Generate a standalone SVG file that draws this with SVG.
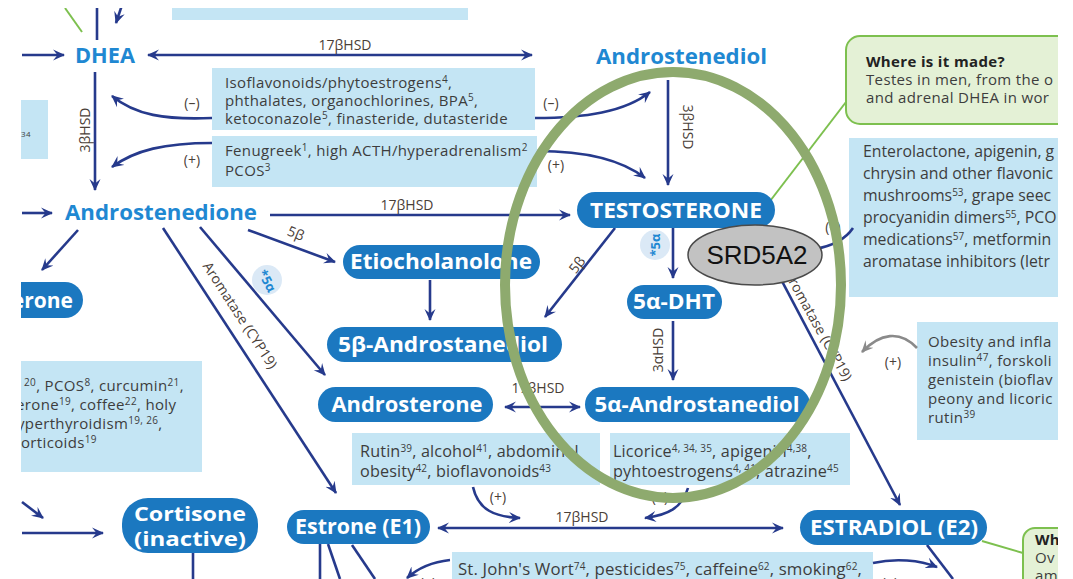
<svg xmlns="http://www.w3.org/2000/svg" width="1073" height="579" viewBox="0 0 1073 579">
<defs>
<clipPath id="crop"><rect x="21" y="8" width="1037" height="571"/></clipPath>
<marker id="ah" viewBox="0 0 12 12" refX="11" refY="6" markerWidth="12" markerHeight="12" orient="auto-start-reverse" markerUnits="userSpaceOnUse"><path d="M0,0.5 L12,6 L0,11.5 L4.5,6 Z" fill="#263a8c"/></marker>
<marker id="ahg" viewBox="0 0 12 12" refX="11" refY="6" markerWidth="12" markerHeight="12" orient="auto" markerUnits="userSpaceOnUse"><path d="M0,0.5 L12,6 L0,11.5 L4.5,6 Z" fill="#8a8a8a"/></marker>
<style>
.ln{fill:none;stroke:#263a8c;stroke-width:2.6}
.arr{marker-end:url(#ah)}
.dbl{marker-start:url(#ah);marker-end:url(#ah)}
.gl{fill:none;stroke:#7dc04f;stroke-width:2}
.box{fill:#c4e5f4}
.gbox{fill:#e4f1d6;stroke:#7dc04f;stroke-width:2}
.pill{fill:#1b78c0}
.pt{font-family:"Open Sans","Noto Sans",sans-serif;font-weight:700;font-size:21px;fill:#fff;text-anchor:middle}
.ft{font-family:"Open Sans","Noto Sans",sans-serif;font-weight:700;font-size:21px;fill:#1f88d2}
.bt{font-family:"Open Sans","Noto Sans",sans-serif;font-size:15px;letter-spacing:0.35px;fill:#3d3d3d}
.bt3{font-family:"Open Sans","Noto Sans",sans-serif;font-size:15.8px;fill:#3d3d3d}
.bt2{font-family:"Open Sans","Noto Sans",sans-serif;font-size:16.2px;letter-spacing:0.15px;fill:#3d3d3d}
.lb{font-family:"Open Sans","Noto Sans",sans-serif;font-size:14px;fill:#4a4038;text-anchor:middle}
.sup{font-size:10px}
.c5{fill:#dbe9f6}
.c5t{font-family:"Open Sans","Noto Sans",sans-serif;font-weight:700;font-size:13px;fill:#1f88d2;text-anchor:middle}
</style>
</defs>
<g clip-path="url(#crop)">
<g id="boxes">
<rect class="box" x="172" y="8" width="296" height="12"/>
<rect class="box" x="21" y="100" width="27" height="59"/>
<text class="bt" x="21" y="137" style="font-size:8px">34</text>
<rect class="box" x="212" y="68" width="323" height="62"/>
<text class="bt" x="225" y="88">Isoflavonoids/phytoestrogens<tspan class="sup" dy="-5">4</tspan><tspan dy="5">,</tspan></text>
<text class="bt" x="225" y="106">phthalates, organochlorines, BPA<tspan class="sup" dy="-5">5</tspan><tspan dy="5">,</tspan></text>
<text class="bt" x="225" y="124">ketoconazole<tspan class="sup" dy="-5">5</tspan><tspan dy="5">, finasteride, dutasteride</tspan></text>
<rect class="box" x="212" y="136" width="325" height="51"/>
<text class="bt" x="225" y="156">Fenugreek<tspan class="sup" dy="-5">1</tspan><tspan dy="5">, high ACTH/hyperadrenalism</tspan><tspan class="sup" dy="-5">2</tspan></text>
<text class="bt" x="225" y="176">PCOS<tspan class="sup" dy="-5">3</tspan></text>
<rect class="box" x="849" y="138" width="209" height="159"/>
<text class="bt3" x="863" y="157">Enterolactone, apigenin, g</text>
<text class="bt3" x="863" y="179">chrysin and other flavonic</text>
<text class="bt3" x="863" y="201">mushrooms<tspan class="sup" dy="-5">53</tspan><tspan dy="5">, grape seec</tspan></text>
<text class="bt3" x="863" y="223">procyanidin dimers<tspan class="sup" dy="-5">55</tspan><tspan dy="5">, PCO</tspan></text>
<text class="bt3" x="863" y="245">medications<tspan class="sup" dy="-5">57</tspan><tspan dy="5">, metformin</tspan></text>
<text class="bt3" x="863" y="267">aromatase inhibitors (letr</text>
<rect class="box" x="917" y="322" width="141" height="118"/>
<text class="bt" x="928" y="347">Obesity and infla</text>
<text class="bt" x="928" y="366">insulin<tspan class="sup" dy="-5">47</tspan><tspan dy="5">, forskoli</tspan></text>
<text class="bt" x="928" y="385">genistein (bioflav</text>
<text class="bt" x="928" y="404">peony and licoric</text>
<text class="bt" x="928" y="423">rutin<tspan class="sup" dy="-5">39</tspan></text>
<rect class="box" x="21" y="361" width="181" height="111"/>
<text class="bt" x="24" y="391"><tspan class="sup" dy="-5">20</tspan><tspan dy="5">, PCOS</tspan><tspan class="sup" dy="-5">8</tspan><tspan dy="5">, curcumin</tspan><tspan class="sup" dy="-5">21</tspan><tspan dy="5">,</tspan></text>
<text class="bt" x="16" y="410">erone<tspan class="sup" dy="-5">19</tspan><tspan dy="5">, coffee</tspan><tspan class="sup" dy="-5">22</tspan><tspan dy="5">, holy</tspan></text>
<text class="bt" x="17" y="429">yperthyroidism<tspan class="sup" dy="-5">19, 26</tspan><tspan dy="5">,</tspan></text>
<text class="bt" x="21" y="448">orticoids<tspan class="sup" dy="-5">19</tspan></text>
<rect class="box" x="352" y="433" width="248" height="52"/>
<text class="bt2" x="360" y="457">Rutin<tspan class="sup" dy="-5">39</tspan><tspan dy="5">, alcohol</tspan><tspan class="sup" dy="-5">41</tspan><tspan dy="5">, abdominal</tspan></text>
<text class="bt2" x="360" y="477">obesity<tspan class="sup" dy="-5">42</tspan><tspan dy="5">, bioflavonoids</tspan><tspan class="sup" dy="-5">43</tspan></text>
<rect class="box" x="610" y="433" width="240" height="52"/>
<text class="bt2" x="613" y="457">Licorice<tspan class="sup" dy="-5">4, 34, 35</tspan><tspan dy="5">, apigenin</tspan><tspan class="sup" dy="-5">4,38</tspan><tspan dy="5">,</tspan></text>
<text class="bt2" x="613" y="477">pyhtoestrogens<tspan class="sup" dy="-5">4, 41</tspan><tspan dy="5">, atrazine</tspan><tspan class="sup" dy="-5">45</tspan></text>
<rect class="box" x="452" y="552" width="421" height="30"/>
<text class="bt2" x="458" y="575" style="font-size:16.8px">St. John's Wort<tspan class="sup" dy="-5">74</tspan><tspan dy="5">, pesticides</tspan><tspan class="sup" dy="-5">75</tspan><tspan dy="5">, caffeine</tspan><tspan class="sup" dy="-5">62</tspan><tspan dy="5">, smoking</tspan><tspan class="sup" dy="-5">62</tspan><tspan dy="5">,</tspan></text>
</g>
<g id="green-boxes">
<rect class="gbox" x="846" y="36" width="240" height="88" rx="14"/>
<text class="bt" x="866" y="67" style="font-weight:700;fill:#222">Where is it made?</text>
<text class="bt" x="866" y="85">Testes in men, from the o</text>
<text class="bt" x="866" y="103">and adrenal DHEA in wor</text>
<rect class="gbox" x="1023" y="528" width="80" height="70" rx="12"/>
<text class="bt" x="1035" y="545" style="font-weight:700;fill:#222">Wh</text>
<text class="bt" x="1035" y="563">Ov</text>
<text class="bt" x="1035" y="581">am</text>
</g>
<g id="connectors">
<line class="gl" x1="65" y1="8" x2="82" y2="32"/>
<line class="gl" x1="767" y1="205" x2="846" y2="102"/>
<line class="gl" x1="982" y1="541" x2="1023" y2="553"/>
<line class="ln" x1="97" y1="8" x2="97" y2="40"/>
<line class="ln arr" x1="123" y1="2" x2="116" y2="23"/>
<line class="ln arr" x1="22" y1="55" x2="64" y2="55"/>
<line class="ln dbl" x1="148" y1="55" x2="532" y2="55"/>
<line class="ln arr" x1="95" y1="72" x2="95" y2="190"/>
<path class="ln arr" d="M212,118 C165,120 135,115 112,96"/>
<path class="ln arr" d="M212,143 C165,143 135,150 112,167"/>
<path class="ln arr" d="M535,118 C585,118 625,112 650,92"/>
<path class="ln arr" d="M537,151 C585,151 622,160 645,178"/>
<line class="ln arr" x1="668" y1="80" x2="668" y2="185"/>
<line class="ln arr" x1="22" y1="213" x2="52" y2="213"/>
<line class="ln arr" x1="270" y1="215" x2="570" y2="215"/>
<line class="ln arr" x1="78" y1="230" x2="42" y2="270"/>
<line class="ln arr" x1="248" y1="230" x2="335" y2="262"/>
<line class="ln arr" x1="163" y1="228" x2="336" y2="493"/>
<line class="ln arr" x1="200" y1="227" x2="325" y2="375"/>
<line class="ln arr" x1="430" y1="280" x2="430" y2="320"/>
<line class="ln arr" x1="615" y1="228" x2="545" y2="317"/>
<line class="ln arr" x1="673" y1="228" x2="673" y2="278"/>
<line class="ln arr" x1="673" y1="321" x2="673" y2="380"/>
<line class="ln dbl" x1="505" y1="407" x2="580" y2="407"/>
<line class="ln arr" x1="755" y1="230" x2="900" y2="505"/>
<path class="ln" d="M853,228 C845,240 832,246 815,249"/>
<path class="ln arr" d="M473,487 C478,510 495,517 520,518"/>
<path class="ln arr" d="M688,488 C682,508 668,515 645,518"/>
<line class="ln dbl" x1="438" y1="528" x2="783" y2="528"/>
<line class="ln arr" x1="22" y1="533" x2="103" y2="533"/>
<line class="ln arr" x1="22" y1="502" x2="43" y2="518"/>
<line class="ln" x1="193" y1="553" x2="193" y2="579"/>
<line class="ln" x1="320" y1="544" x2="320" y2="579"/>
<line class="ln" x1="328" y1="544" x2="340" y2="579"/>
<line class="ln" x1="352" y1="545" x2="375" y2="579"/>
<path class="ln arr" d="M450,560 C432,562 418,568 407,578"/>
<path class="ln arr" d="M873,563 C895,558 920,560 937,567"/>
<line class="ln" x1="927" y1="545" x2="953" y2="579"/>
<path d="M917,348 C900,330 880,333 862,352" fill="none" stroke="#8a8a8a" stroke-width="2.6" marker-end="url(#ahg)"/>
</g>
<g id="labels">
<text class="lb" x="345" y="50">17βHSD</text>
<text class="lb" x="192" y="108">(–)</text>
<text class="lb" x="192" y="165">(+)</text>
<text class="lb" x="551" y="108">(–)</text>
<text class="lb" x="556" y="170">(+)</text>
<text class="lb" transform="translate(90,130) rotate(-90)">3βHSD</text>
<text class="lb" transform="translate(683,127) rotate(90)">3βHSD</text>
<text class="lb" x="407" y="210">17βHSD</text>
<text class="lb" transform="translate(294,238) rotate(22)">5β</text>
<text class="lb" transform="translate(236,318) rotate(57)">Aromatase (CYP19)</text>
<text class="lb" transform="translate(581,268) rotate(-52)">5β</text>
<text class="lb" transform="translate(663,350) rotate(-90)">3αHSD</text>
<text class="lb" x="538" y="393">17βHSD</text>
<text class="lb" transform="translate(814,328) rotate(61)">Aromatase (CYP19)</text>
<text class="lb" x="833" y="232">(–)</text>
<text class="lb" x="893" y="367">(+)</text>
<text class="lb" x="498" y="502">(+)</text>
<text class="lb" x="660" y="502">(+)</text>
<text class="lb" x="582" y="522">17βHSD</text>
<text class="lb" x="428" y="588">(+)</text>
<text class="lb" x="890" y="588">(+)</text>
<circle class="c5" cx="267" cy="280" r="15"/>
<text class="c5t" transform="translate(263,283) rotate(62)">*5α</text>
<circle class="c5" cx="655" cy="245" r="15"/>
<text class="c5t" transform="translate(660,245) rotate(-90)">*5α</text>
</g>
<g id="node-dhea"><text class="ft" x="75" y="63" textLength="60" lengthAdjust="spacingAndGlyphs">DHEA</text></g>
<g id="node-androstenediol"><text class="ft" x="596" y="64" textLength="171" lengthAdjust="spacingAndGlyphs">Androstenediol</text></g>
<g id="node-androstenedione"><text class="ft" x="65" y="220" textLength="192" lengthAdjust="spacingAndGlyphs">Androstenedione</text></g>
<g id="node-erone"><rect class="pill" x="-100" y="282" width="183" height="36" rx="18"/><text class="pt" x="73" y="308" style="text-anchor:end">erone</text></g>
<g id="node-etiocholanolone"><rect class="pill" x="343" y="245" width="197" height="34" rx="17"/><text class="pt" x="441" y="269" textLength="182" lengthAdjust="spacingAndGlyphs">Etiocholanolone</text></g>
<g id="node-testosterone"><rect class="pill" x="577" y="192" width="198" height="36" rx="18"/><text class="pt" x="676" y="218" textLength="172" lengthAdjust="spacingAndGlyphs">TESTOSTERONE</text></g>
<g id="node-5b-androstanediol"><rect class="pill" x="327" y="327" width="235" height="35" rx="17.5"/><text class="pt" x="443" y="352" textLength="210" lengthAdjust="spacingAndGlyphs">5β-Androstanediol</text></g>
<g id="node-5a-dht"><rect class="pill" x="627" y="285" width="95" height="34" rx="17"/><text class="pt" x="674" y="309" textLength="82" lengthAdjust="spacingAndGlyphs">5α-DHT</text></g>
<g id="node-androsterone"><rect class="pill" x="318" y="387" width="175" height="35" rx="17.5"/><text class="pt" x="407" y="412" textLength="151" lengthAdjust="spacingAndGlyphs">Androsterone</text></g>
<g id="node-5a-androstanediol"><rect class="pill" x="585" y="387" width="225" height="35" rx="17.5"/><text class="pt" x="697" y="412" textLength="205" lengthAdjust="spacingAndGlyphs">5α-Androstanediol</text></g>
<g id="node-cortisone"><rect class="pill" x="122" y="498" width="136" height="55" rx="26"/><text class="pt" x="190" y="521" style="font-size:20px" textLength="112" lengthAdjust="spacingAndGlyphs">Cortisone</text><text class="pt" x="190" y="546" style="font-size:20px" textLength="112" lengthAdjust="spacingAndGlyphs">(inactive)</text></g>
<g id="node-estrone"><rect class="pill" x="287" y="510" width="143" height="34" rx="17"/><text class="pt" x="358" y="534" textLength="126" lengthAdjust="spacingAndGlyphs">Estrone (E1)</text></g>
<g id="node-estradiol"><rect class="pill" x="800" y="510" width="187" height="35" rx="17.5"/><text class="pt" x="894" y="535" textLength="168" lengthAdjust="spacingAndGlyphs">ESTRADIOL (E2)</text></g>
<g id="highlight"><ellipse cx="673" cy="285" rx="168" ry="213" fill="none" stroke="#8eaa6e" stroke-width="10"/></g>
<g id="node-srd5a2"><ellipse cx="755" cy="255" rx="67" ry="30" fill="#c2c2c2" stroke="#4a4a4a" stroke-width="1.5"/><text x="757" y="264" font-family="Liberation Sans, Arial, sans-serif" font-size="26" text-anchor="middle" fill="#111">SRD5A2</text></g>
</g>
</svg>
